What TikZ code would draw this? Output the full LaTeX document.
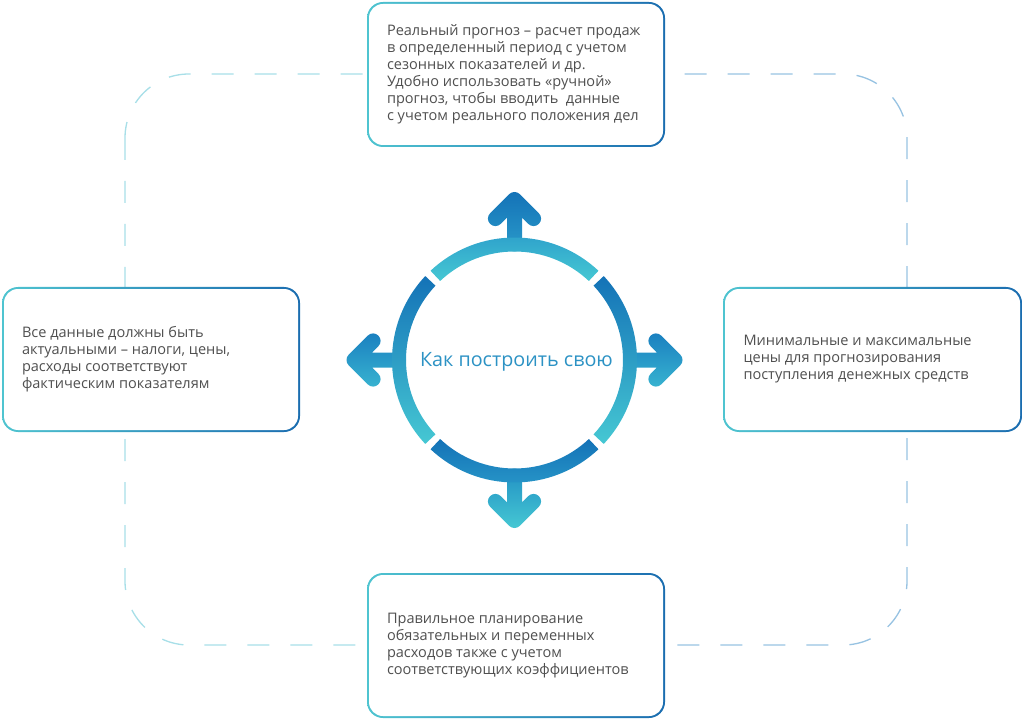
\documentclass[tikz,border=0pt]{standalone}
\usepackage{fontspec}
\setmainfont{Open Sans}
\usetikzlibrary{calc,backgrounds}
\definecolor{boxL}{HTML}{4FC4D0}
\definecolor{boxR}{HTML}{1B6DB0}
\definecolor{dashL}{HTML}{A8DFE8}
\definecolor{dashR}{HTML}{98C3E2}
\definecolor{txtc}{HTML}{505050}
\definecolor{titlec}{HTML}{2C92C4}
\definecolor{dk}{HTML}{1472B7}
\definecolor{dkb}{HTML}{1A80C0}
\definecolor{md}{HTML}{2A9BCA}
\definecolor{mdb}{HTML}{38B3D0}
\definecolor{mdd}{HTML}{2190C4}
\definecolor{lt}{HTML}{46C8D3}
\newcommand{\boxtext}[1]{\makebox[193.5pt][l]{\begin{tabular}{@{}l@{}}#1\end{tabular}}}
\begin{document}
\begin{tikzpicture}[x=0.75pt,y=0.75pt,
  box/.style={rounded corners=12pt, left color=boxL, right color=boxR,
    minimum width=223.5pt, minimum height=108.75pt, inner xsep=15pt, inner ysep=0pt,
    text=txtc, font=\fontsize{10.9pt}{12.75pt}\selectfont,
    path picture={\fill[white,rounded corners=10.5pt]
      ([xshift=1.5pt,yshift=1.5pt]path picture bounding box.south west) rectangle
      ([xshift=-1.5pt,yshift=-1.5pt]path picture bounding box.north east);}},
  stad/.style n args={4}{insert path={($(#1)+({#3-90}:#4)$) -- ($(#2)+({#3-90}:#4)$)
      arc[start angle={#3-90}, end angle={#3+90}, radius=#4]
      -- ($(#1)+({#3+90}:#4)$) arc[start angle={#3+90}, end angle={#3+270}, radius=#4] -- cycle}},
  dashline/.style={line width=1pt, dash pattern=on 16.5pt off 15.75pt, rounded corners=48pt}
]
\useasboundingbox (0,0) rectangle (1024,-720);
\coordinate (C) at (514.5,-360);

% boxes
\node[box] (top) at (516,-74.5) {\boxtext{Реальный прогноз – расчет продаж\\в определенный период с учетом\\сезонных показателей и др.\\Удобно использовать «ручной»\\прогноз, чтобы вводить\ \ данные\\с учетом реального положения дел}};
\node[box] (left) at (151,-359.5) {\boxtext{Все данные должны быть\\актуальными – налоги, цены,\\расходы соответствуют\\фактическим показателям}};
\node[box, minimum width=224.25pt] (right) at (872.5,-359.5) {\boxtext{Минимальные и максимальные\\цены для прогнозирования\\поступления денежных средств}};
\node[box] (bottom) at (516,-645.5) {\boxtext{Правильное планирование\\обязательных и переменных\\расходов также с учетом\\соответствующих коэффициентов}};

% dashed loop behind the boxes
\begin{scope}[on background layer]
  \begin{scope}
    \clip (0,0) rectangle (516,-720);
    \draw[dashL, dashline] (125,-74) rectangle (907,-645);
  \end{scope}
  \begin{scope}
    \clip (516,0) rectangle (1024,-720);
    \draw[dashR, dashline] (125,-74) rectangle (907,-645);
  \end{scope}
\end{scope}

% arrows
\foreach \a/\tc/\bc in {90/dk/md, 0/dkb/mdb, 180/dkb/mdb, 270/mdd/lt}{
  \coordinate (T) at ($(C)+(\a:160.5)$);
  \coordinate (S) at ($(C)+(\a:116)$);
  \coordinate (W1) at ($(T)+({\a+135}:27)$);
  \coordinate (W2) at ($(T)+({\a-135}:27)$);
  \shade[top color=\tc, bottom color=\bc, stad={S}{T}{\a}{7.5}, stad={W1}{T}{\a-45}{7.5}, stad={W2}{T}{\a+45}{7.5}];
}

% ring segments
\foreach \s/\e/\tc/\bc in {46.75/133.25/md/lt, 136.75/223.25/dk/lt, 226.75/313.25/dk/md, -43.25/43.25/dk/lt}{
  \shade[top color=\tc, bottom color=\bc] ($(C)+(\s:122.5)$) arc[start angle=\s, end angle=\e, radius=122.5]
    -- ($(C)+(\e:108.5)$) arc[start angle=\e, end angle=\s, radius=108.5] -- cycle;
}

\node[font=\fontsize{14.8pt}{17pt}\selectfont, text=titlec] (title) at (516.5,-362) {Как построить свою};
\end{tikzpicture}
\end{document}
